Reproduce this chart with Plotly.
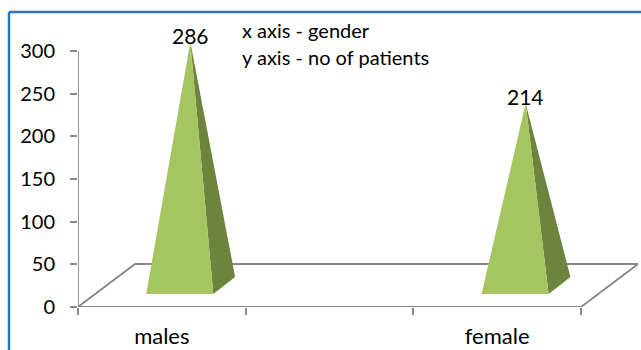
import plotly.graph_objects as go

categories = ["males", "", "female"]
bar_categories = [0, 2]
patients = [286, 214]
y_ticks = [0, 50, 100, 150, 200, 250, 300]
notes = ["x axis - gender", "y axis - no of patients"]

W, H = 641, 350
L, R, T, B = 78, 638, 34, 307
X_MIN, X_MAX = -0.5, 2.84
Y_MIN, Y_MAX = 0, 320
FONT = "Lato"
FRONT, SIDE, AXIS, BORDER = "#A4C560", "#6C843C", "#888888", "#2E75B6"
LINE_W = 1.8

# oblique 3-D projection, in axis units
FLOOR_DX, FLOOR_DY = 0.34, 50.4
BASE_FRONT_Y, BASE_BACK_Y, APEX_BASE_Y = 15.2, 35.2, 24.6
LEFT_DX, RIGHT_DX, BACK_DX, APEX_DX = -0.093, 0.307, 0.437, 0.17

fig = go.Figure()

# floor
fig.add_trace(go.Scatter(
    x=[-0.5, -0.5 + FLOOR_DX, 2.5 + FLOOR_DX, 2.5],
    y=[0, FLOOR_DY, FLOOR_DY, 0],
    mode="lines", line=dict(color=AXIS, width=LINE_W), cliponaxis=False,
    hoverinfo="skip", showlegend=False))
# axis lines stop at the last tick, short of the plot-area edge
fig.add_trace(go.Scatter(
    x=[-0.5, -0.5, 2.5], y=[y_ticks[-1], 0, 0],
    mode="lines", line=dict(color=AXIS, width=LINE_W), cliponaxis=False,
    hoverinfo="skip", showlegend=False))

for c, v in zip(bar_categories, patients):
    apex_y = APEX_BASE_Y + v
    fig.add_trace(go.Scatter(
        x=[c + RIGHT_DX, c + BACK_DX, c + APEX_DX, c + RIGHT_DX],
        y=[BASE_FRONT_Y, BASE_BACK_Y, apex_y, BASE_FRONT_Y],
        mode="lines", fill="toself", fillcolor=SIDE, line=dict(width=0),
        cliponaxis=False, showlegend=False, hoverinfo="skip"))
    fig.add_trace(go.Scatter(
        x=[c + LEFT_DX, c + RIGHT_DX, c + APEX_DX, c + LEFT_DX],
        y=[BASE_FRONT_Y, BASE_FRONT_Y, apex_y, BASE_FRONT_Y],
        mode="lines", fill="toself", fillcolor=FRONT, line=dict(width=0),
        cliponaxis=False, showlegend=False, hoverinfo="skip"))
    fig.add_annotation(x=c + APEX_DX, y=apex_y, text=str(v), showarrow=False,
                       yanchor="bottom", yshift=-8,
                       font=dict(family=FONT, size=21, color="#000000"))

fig.update_xaxes(
    range=[X_MIN, X_MAX], tickvals=[0, 1, 2], ticktext=categories,
    ticks="", showgrid=False, zeroline=False, showline=False,
    ticklabelstandoff=14,
    tickfont=dict(family=FONT, size=22, color="#000000"),
    minor=dict(tickvals=[-0.5, 0.5, 1.5, 2.5], ticks="outside", ticklen=7,
               tickcolor=AXIS, tickwidth=LINE_W, showgrid=False))
fig.update_yaxes(
    range=[Y_MIN, Y_MAX], tickvals=y_ticks, ticks="outside", ticklen=7,
    tickcolor=AXIS, tickwidth=LINE_W, showgrid=False, zeroline=False,
    showline=False, ticklabelstandoff=11,
    tickfont=dict(family=FONT, size=20, color="#000000"))

for text, y in zip(notes, [30, 57]):
    fig.add_annotation(xref="paper", yref="paper",
                       x=(240 - L) / (R - L), y=(B - y) / (B - T),
                       text=text, showarrow=False, xanchor="left", yanchor="middle",
                       font=dict(family=FONT, size=20, color="#000000"))

# picture frame: left and top edges only
fig.add_shape(type="line", xref="paper", yref="paper", layer="above",
              x0=(9 - L) / (R - L), x1=(9 - L) / (R - L),
              y0=(B - 350) / (B - T), y1=(B - 12) / (B - T),
              line=dict(color=BORDER, width=2.5))
fig.add_shape(type="line", xref="paper", yref="paper", layer="above",
              x0=(9 - L) / (R - L), x1=(641 - L) / (R - L),
              y0=(B - 12) / (B - T), y1=(B - 12) / (B - T),
              line=dict(color=BORDER, width=2.5))

fig.update_layout(
    width=W, height=H, showlegend=False,
    margin=dict(l=L, r=W - R, t=T, b=H - B, autoexpand=False),
    paper_bgcolor="white", plot_bgcolor="white")

fig.write_html("out.html", post_script="document.body.style.margin='0';",
               config=dict(displayModeBar=False))
